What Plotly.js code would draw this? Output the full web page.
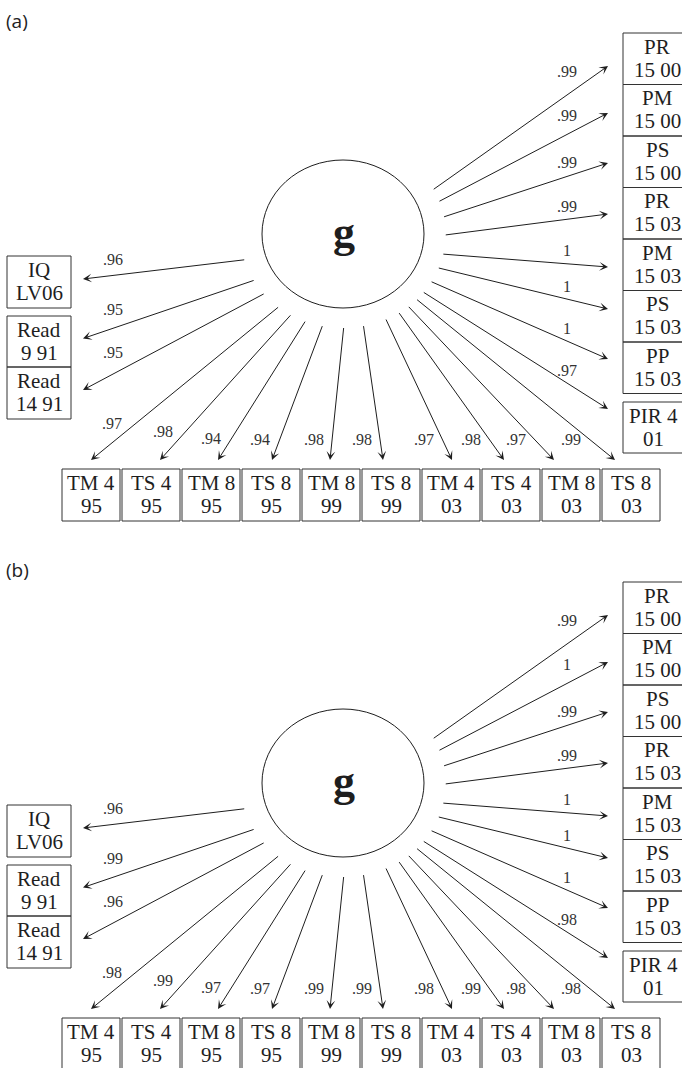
<!DOCTYPE html>
<html><head><meta charset="utf-8">
<script src="https://cdn.plot.ly/plotly-3.0.1.min.js"></script>
<style>html,body{margin:0;padding:0;background:#fff}#chart{width:682px;height:1068px}</style>
</head><body><div id="chart"></div>
<script>
// ---------------- DATA ----------------
const panelTags = ['(a)', '(b)'];
const latentLabel = 'g';
const rightNodes = [['PR','15 00'],['PM','15 00'],['PS','15 00'],['PR','15 03'],['PM','15 03'],['PS','15 03'],['PP','15 03'],['PIR 4','01']];
const leftNodes = [['IQ','LV06'],['Read','9 91'],['Read','14 91']];
const bottomNodes = [['TM 4','95'],['TS 4','95'],['TM 8','95'],['TS 8','95'],['TM 8','99'],['TS 8','99'],['TM 4','03'],['TS 4','03'],['TM 8','03'],['TS 8','03']];

const rightA = [0.99, 0.99, 0.99, 0.99, 1, 1, 1, 0.97];
const leftA = [0.96, 0.95, 0.95];
const bottomA = [0.97, 0.98, 0.94, 0.94, 0.98, 0.98, 0.97, 0.98, 0.97, 0.99];

const rightB = [0.99, 1, 0.99, 0.99, 1, 1, 1, 0.98];
const leftB = [0.96, 0.99, 0.96];
const bottomB = [0.98, 0.99, 0.97, 0.97, 0.99, 0.99, 0.98, 0.99, 0.98, 0.98];

// ---------------- LAYOUT GEOMETRY (diagram positions, not data) ----------------
const G = {
  panelOffsets: [0, 549],
  ell: {cx: 343, cy: 234, rx: 81, ry: 74},
  focus: {x: 352, y: 247}, tailScale: 1.25,
  right: {x0: 623, x1: 691, textX: 657, pirTextX: 653, top: 33, h: 51.5, pir: {y0: 402, y1: 453},
          headX: 608, headY: [66, 113, 163, 214, 267, 309, 359, 409]},
  left: {x0: 7, x1: 71, boxes: [[256, 308], [316, 367], [367, 419]], headX: 83, headDy: -3},
  bottom: {x0: 61, w: 60, gap: 2, y0: 469, y1: 521, headY: 460,
           headX: [91, 160, 218, 272, 330, 383, 452, 504, 554, 615]},
  lineUp: 12, lineDown: 11
};
const SERIF = 'Liberation Serif';
const INK = '#1e1e1e';

function fmt(v){ return v === 1 ? '1' : v.toFixed(2).replace(/^0/, ''); }

const shapes = [];
const annotations = [];

function boxText(lines, cx, cy){
  annotations.push({x: cx, y: cy - G.lineUp, xref:'x', yref:'y', text: lines[0], showarrow:false,
    font:{family:SERIF, size:21, color:INK}, xanchor:'center', yanchor:'middle'});
  annotations.push({x: cx, y: cy + G.lineDown, xref:'x', yref:'y', text: lines[1], showarrow:false,
    font:{family:SERIF, size:21, color:INK}, xanchor:'center', yanchor:'middle'});
}
function rect(x0, y0, x1, y1){
  shapes.push({type:'rect', xref:'x', yref:'y', x0, y0, x1, y1, line:{color:'#333', width:1}, fillcolor:'rgba(0,0,0,0)'});
}
function tailFor(hx, hy, off){
  const e = G.ell, F = G.focus, k = G.tailScale;
  const fx = F.x - e.cx, fy = F.y - e.cy;
  const dx = hx - F.x, dy = (hy - off) - F.y;
  const a = (dx/e.rx)**2 + (dy/e.ry)**2;
  const b = 2*(fx*dx/(e.rx*e.rx) + fy*dy/(e.ry*e.ry));
  const c = (fx/e.rx)**2 + (fy/e.ry)**2 - k*k;
  const t = (-b + Math.sqrt(b*b - 4*a*c)) / (2*a);
  return [F.x + t*dx, F.y + t*dy + off];
}
function arrow(hx, hy, tx, ty){
  annotations.push({x: hx, y: hy, ax: tx, ay: ty, xref:'x', yref:'y', axref:'x', ayref:'y',
    text:'', showarrow:true, arrowhead:3, arrowsize:1.45, arrowwidth:1, arrowcolor:INK, standoff:0, startstandoff:0});
}
function label(v, x, y){
  annotations.push({x, y, xref:'x', yref:'y', text: fmt(v), showarrow:false,
    font:{family:SERIF, size:16, color:'#333'}, xanchor:'center', yanchor:'middle'});
}

function drawPanel(p, rightVals, leftVals, bottomVals){
  const off = G.panelOffsets[p];
  const e = G.ell;
  annotations.push({x: 4, y: 21 + off, xref:'x', yref:'y', text: panelTags[p], showarrow:false,
    font:{family:'Open Sans', size:19, color:'#222'}, xanchor:'left', yanchor:'middle'});
  shapes.push({type:'circle', xref:'x', yref:'y', x0: e.cx - e.rx, x1: e.cx + e.rx,
    y0: e.cy - e.ry + off, y1: e.cy + e.ry + off, line:{color:INK, width:1}});
  annotations.push({x: e.cx + 1, y: e.cy - 2 + off, xref:'x', yref:'y', text: '<b>' + latentLabel + '</b>', showarrow:false,
    font:{family:SERIF, size:44, color:INK}, xanchor:'center', yanchor:'middle'});

  const R = G.right;
  rightNodes.forEach((lines, i) => {
    let y0, y1, tx0 = R.textX;
    if (i < 7) { y0 = R.top + i*R.h; y1 = y0 + R.h; } else { y0 = R.pir.y0; y1 = R.pir.y1; tx0 = R.pirTextX; }
    rect(R.x0, y0 + off, R.x1, y1 + off);
    boxText(lines, tx0, (y0 + y1)/2 + off);
    const hx = R.headX, hy = R.headY[i] + off;
    const [tx, ty] = tailFor(hx, hy, off);
    arrow(hx, hy, tx, ty);
    const m = (hy - ty)/(hx - tx);
    const lx = 567;
    const ly = ty + m*(lx - tx) - (13 + 25*Math.max(0, -m - 0.3));
    label(rightVals[i], lx, ly);
  });

  const L = G.left;
  leftNodes.forEach((lines, i) => {
    const [y0, y1] = L.boxes[i];
    rect(L.x0, y0 + off, L.x1, y1 + off);
    boxText(lines, (L.x0 + L.x1)/2, (y0 + y1)/2 + off);
    const hx = L.headX, hy = (y0 + y1)/2 + L.headDy + off;
    const [tx, ty] = tailFor(hx, hy, off);
    arrow(hx, hy, tx, ty);
    const m = (hy - ty)/(hx - tx);
    const lx = 113;
    const ly = ty + m*(lx - tx) - (15 + 12*Math.abs(m));
    label(leftVals[i], lx, ly);
  });

  const B = G.bottom;
  bottomNodes.forEach((lines, i) => {
    const x0 = B.x0 + i*B.w + B.gap/2, x1 = B.x0 + (i+1)*B.w - B.gap/2;
    rect(x0, B.y0 + off, x1, B.y1 + off);
    boxText(lines, (x0 + x1)/2, (B.y0 + B.y1)/2 + off);
    const hx = B.headX[i], hy = B.headY + off;
    const [tx, ty] = tailFor(hx, hy, off);
    arrow(hx, hy, tx, ty);
    const k = (hx - tx)/(hy - ty);
    const ly = 439 + off - 25*Math.max(0, -k - 0.6);
    const lx = tx + k*(ly - ty) - (18 + 5*Math.max(0, -k));
    label(bottomVals[i], lx, ly);
  });
}

drawPanel(0, rightA, leftA, bottomA);
drawPanel(1, rightB, leftB, bottomB);

const layout = {
  width: 682, height: 1068,
  margin: {l:0, r:0, t:0, b:0, pad:0},
  paper_bgcolor: '#fff', plot_bgcolor: '#fff',
  showlegend: false,
  font: {family: SERIF},
  xaxis: {range: [0, 682], visible: false, fixedrange: true},
  yaxis: {range: [1068, 0], visible: false, fixedrange: true},
  shapes, annotations
};
Plotly.newPlot('chart', [{x: [], y: [], type: 'scatter', mode: 'markers', hoverinfo: 'skip'}], layout, {staticPlot: true, displayModeBar: false});
</script>
</body></html>
